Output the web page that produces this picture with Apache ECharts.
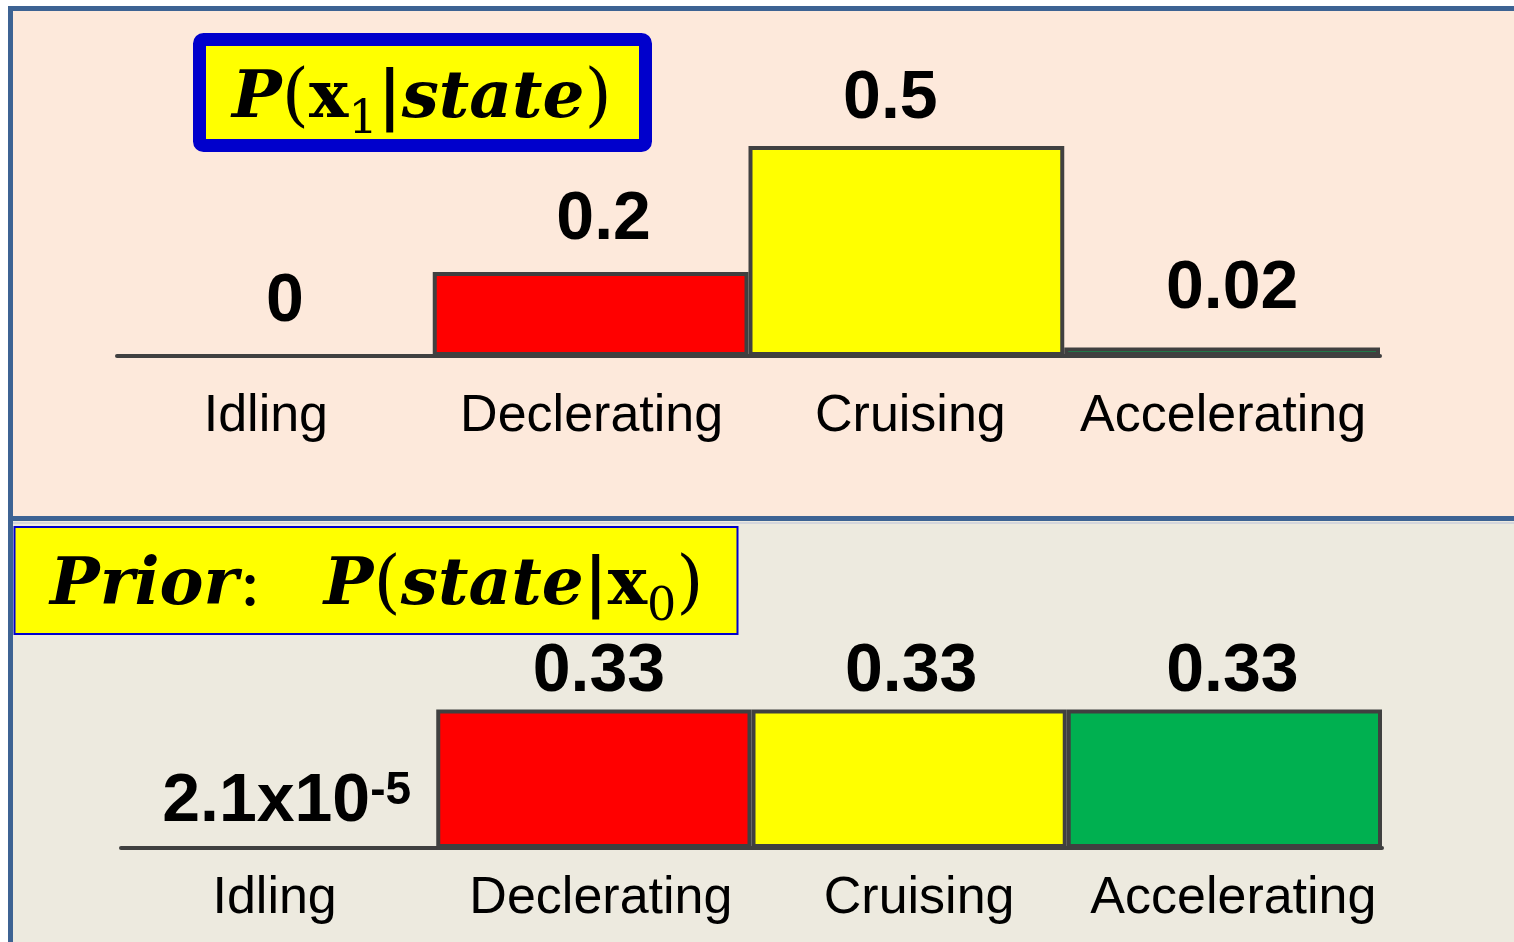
<!DOCTYPE html>
<html>
<head>
<meta charset="utf-8">
<style>
  html, body { margin: 0; padding: 0; background: #ffffff; }
  #chart { width: 1514px; height: 942px; }
</style>
<script src="https://cdn.jsdelivr.net/npm/echarts@6/dist/echarts.min.js"></script>
</head>
<body>
<div id="chart"></div>
<script>
// Driving states and the two probability tables shown for each of them
const categories = ['Idling', 'Declerating', 'Cruising', 'Accelerating'];
const likelihood = [0, 0.2, 0.5, 0.02];        // P(x1 | state)
const prior = [2.1e-5, 0.33, 0.33, 0.33];      // P(state | x0)
const stateColors = ['#7F7F7F', '#FF0000', '#FFFF00', '#00B050'];

// Label placement tweaks
const topLabelAdjust = [[10, 18], [13, 18], [-16, 13], [10, 24]];    // [dx, distance above bar]
const bottomLabelAdjust = [[8, 10], [5, 3], [2, 3], [8, 3]];
const topCategoryShift = [-9, 1, 4, 1];                              // dx of category names
const bottomCategoryShift = [-4, 7, 10, 9];

const FRAME = '#3D6393';
const BORDER = '#404040';
const SANS = '"Liberation Sans", Arial, sans-serif';
const SERIF = '"DejaVu Serif", "Liberation Serif", serif';

// Values below 0.001 are written in scientific form, e.g. 2.1x10^-5
function formatValue(v) {
  if (v > 0 && v < 0.001) {
    const parts = v.toExponential(1).split('e');
    return parts[0] + 'x10{sup|' + Number(parts[1]) + '}';
  }
  return String(v);
}

function buildData(values, adjust) {
  return values.map((v, i) => ({
    value: v,
    itemStyle: { color: stateColors[i] },
    label: { offset: [adjust[i][0], 0], distance: adjust[i][1] }
  }));
}

// shift a centred category name sideways by padding one side
function categoryData(shifts) {
  return categories.map((name, i) => {
    const dx = shifts[i];
    const pad = dx >= 0 ? [0, 0, 0, 2 * dx] : [0, -2 * dx, 0, 0];
    return { value: name, textStyle: { padding: pad } };
  });
}

const valueLabel = {
  show: true,
  position: 'top',
  formatter: p => formatValue(p.value),
  color: '#000',
  fontFamily: SANS,
  fontWeight: 'bold',
  fontSize: 68,
  rich: {
    sup: { fontFamily: SANS, fontWeight: 'bold', fontSize: 46, color: '#000', verticalAlign: 'top' }
  }
};

function xAxisFor(gridIndex, margin, shifts) {
  return {
    type: 'category',
    gridIndex: gridIndex,
    data: categoryData(shifts),
    axisTick: { show: false },
    axisLine: { show: true, lineStyle: { color: BORDER, width: 4, cap: 'round' } },
    axisLabel: { margin: margin, color: '#000', fontFamily: SANS, fontSize: 52, interval: 0 }
  };
}

function yAxisFor(gridIndex) {
  return {
    type: 'value', gridIndex: gridIndex, min: 0, max: 0.5,
    show: false, splitLine: { show: false }
  };
}

const titleRich = {
  pi: { fontFamily: SERIF, fontStyle: 'italic', fontWeight: 'bold', fontSize: 66, color: '#000', verticalAlign: 'top' },
  pr: { fontFamily: SERIF, fontWeight: 'normal', fontSize: 70, color: '#000', verticalAlign: 'top', padding: [-2, 0, 0, 0] },
  xb: { fontFamily: SERIF, fontWeight: 'bold', fontSize: 66, color: '#000', verticalAlign: 'top' },
  sub: { fontFamily: SERIF, fontWeight: 'normal', fontSize: 46, color: '#000', verticalAlign: 'top', padding: [31, 0, 0, 0] },
  bar: { fontFamily: SERIF, fontWeight: 'bold', fontSize: 66, color: '#000', verticalAlign: 'top' },
  sp: { fontFamily: SERIF, fontSize: 66, width: 62, verticalAlign: 'top' }
};

const option = {
  animation: false,
  backgroundColor: '#ffffff',
  graphic: [
    // panel backgrounds
    { type: 'rect', z: 0, shape: { x: 10, y: 8, width: 1504, height: 510 }, style: { fill: '#FDE9DB' } },
    { type: 'rect', z: 0, shape: { x: 10, y: 518, width: 1504, height: 424 }, style: { fill: '#EDEADF' } },
    // frame lines
    { type: 'line', z: 1, shape: { x1: 10.5, y1: 8, x2: 10.5, y2: 942 }, style: { stroke: FRAME, lineWidth: 5 } },
    { type: 'line', z: 1, shape: { x1: 8, y1: 8.5, x2: 1514, y2: 8.5 }, style: { stroke: FRAME, lineWidth: 5 } },
    { type: 'line', z: 1, shape: { x1: 10, y1: 518.5, x2: 1514, y2: 518.5 }, style: { stroke: FRAME, lineWidth: 5 } },
    { type: 'line', z: 1, shape: { x1: 13, y1: 523, x2: 1514, y2: 523 }, style: { stroke: '#D4D6DC', lineWidth: 2 } },
    // title box of the upper panel
    { type: 'rect', z: 5, shape: { x: 199.5, y: 39.5, width: 446, height: 106, r: 4 },
      style: { fill: '#FFFF00', stroke: '#0000CC', lineWidth: 13 } },
    { type: 'text', z: 6, x: 422, y: 67,
      style: {
        text: '{pi|P}{pr|(}{xb|x}{sub|1}{bar||}{pi|state}{pr|)}',
        rich: titleRich, align: 'center', verticalAlign: 'top'
      } },
    // title box of the lower panel
    { type: 'rect', z: 5, shape: { x: 14.5, y: 527, width: 723, height: 107 },
      style: { fill: '#FFFF00', stroke: '#0000CC', lineWidth: 2 } },
    { type: 'text', z: 6, x: 50, y: 554,
      style: {
        text: '{pi|Prior}{pr|:}{sp| }{pi|P}{pr|(}{pi|state}{bar||}{xb|x}{sub|0}{pr|)}',
        rich: titleRich, align: 'left', verticalAlign: 'top'
      } }
  ],
  grid: [
    { left: 117, right: 134, top: 146, height: 210 },
    { left: 121, right: 132, top: 638, height: 210 }
  ],
  xAxis: [xAxisFor(0, 35, topCategoryShift), xAxisFor(1, 25, bottomCategoryShift)],
  yAxis: [yAxisFor(0), yAxisFor(1)],
  series: [
    {
      name: 'P(x1|state)', type: 'bar', xAxisIndex: 0, yAxisIndex: 0,
      barWidth: '100%', barCategoryGap: 0, z: 3,
      itemStyle: { borderColor: BORDER, borderWidth: 4 },
      label: valueLabel,
      data: buildData(likelihood, topLabelAdjust)
    },
    {
      name: 'P(state|x0)', type: 'bar', xAxisIndex: 1, yAxisIndex: 1,
      barWidth: '100%', barCategoryGap: 0, z: 3,
      itemStyle: { borderColor: BORDER, borderWidth: 4 },
      label: valueLabel,
      data: buildData(prior, bottomLabelAdjust)
    }
  ]
};

const chart = echarts.init(document.getElementById('chart'), null, { renderer: 'canvas' });
chart.setOption(option);
</script>
</body>
</html>
